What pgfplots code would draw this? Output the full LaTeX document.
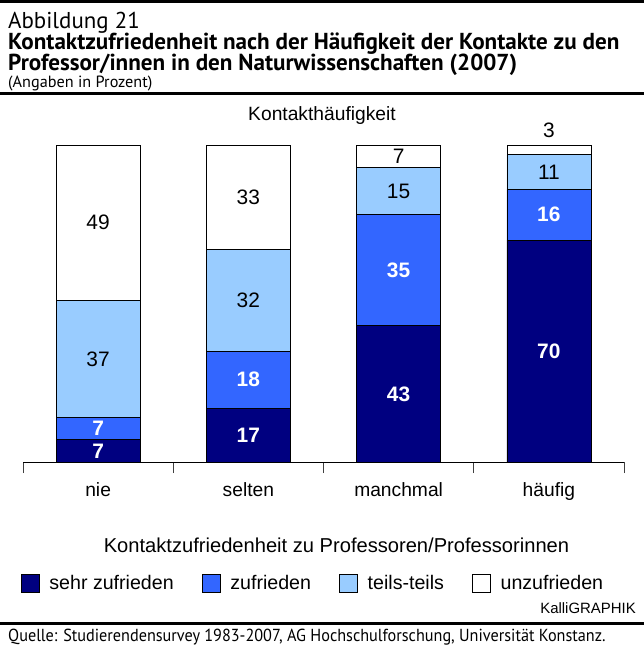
\documentclass[border=0pt]{standalone}
\usepackage{pgfplots}
\pgfplotsset{compat=1.18}
\usepackage{pgfplotstable}
\usepackage{fontspec}
\setmainfont{Liberation Sans}
\newfontfamily\titlefont{PT Sans}
\newfontfamily\sourcefont[FakeStretch=0.93]{PT Sans}
\definecolor{c1}{HTML}{000080}
\definecolor{c2}{HTML}{3366FF}
\definecolor{c3}{HTML}{99CCFF}
\newcommand{\chartfont}{\fontsize{19.3}{22}\selectfont}
\newcommand{\legfont}{\fontsize{19.7}{23}\selectfont}
\newcommand{\labfont}{\fontsize{21}{24}\selectfont}

\pgfplotstableread{
x sehr zuf teils unz
0 7 7 37 49
1 17 18 32 33
2 43 35 15 7
3 70 16 11 3
}\data

% label positions (segment midpoints)
\pgfplotstableread{
x y lab
0 3.5 7
0 10.5 7
1 8.5 17
1 26 18
2 21.5 43
2 60.5 35
3 35 70
3 78 16
}\labwhite
\pgfplotstableread{
x y lab
0 32.5 37
0 75.5 49
1 51 32
1 83.5 33
2 85.5 15
2 96.5 7
3 91.5 11
3 104.7 3
}\labblack

\begin{document}
\begin{tikzpicture}
\path[use as bounding box] (0,0) rectangle (644bp,-645bp);
% rules
\draw[line width=3bp] (0,-1.5bp) -- (644bp,-1.5bp);
\draw[line width=2.5bp] (0,-93.5bp) -- (644bp,-93.5bp);
\draw[line width=2.5bp] (0,-623.5bp) -- (644bp,-623.5bp);
% titles
\node[anchor=base west, inner sep=0, font=\titlefont\fontsize{23}{26}\selectfont] at (8bp,-28bp) {Abbildung 21};
\node[anchor=base west, inner sep=0, font=\titlefont\bfseries\fontsize{23.2}{26}\selectfont] at (8bp,-49bp) {Kontaktzufriedenheit nach der Häufigkeit der Kontakte zu den};
\node[anchor=base west, inner sep=0, font=\titlefont\bfseries\fontsize{23.2}{26}\selectfont] at (8bp,-70bp) {Professor/innen in den Naturwissenschaften (2007)};
\node[anchor=base west, inner sep=0, font=\titlefont\fontsize{16.3}{19}\selectfont] at (8bp,-87bp) {(Angaben in Prozent)};
\node[anchor=base west, inner sep=0, font=\sourcefont\fontsize{17.5}{20}\selectfont] at (8bp,-641bp) {Quelle: Studierendensurvey 1983-2007, AG Hochschulforschung, Universität Konstanz.};
% chart texts
\node[font=\chartfont] at (322bp,-116bp) {Kontakthäufigkeit};
\node[font=\fontsize{20.2}{24}\selectfont] at (336.5bp,-545bp) {Kontaktzufriedenheit zu Professoren/Professorinnen};
\node[anchor=east, inner sep=0, font=\fontsize{15}{18}\selectfont] at (636bp,-608bp) {KalliGRAPHIK};

\begin{axis}[
  at={(23bp,-462bp)}, anchor=south west,
  width=601bp, height=317bp, scale only axis,
  xmin=-0.5, xmax=3.5, ymin=0, ymax=100,
  ybar stacked, bar width=84bp,
  axis x line=bottom, axis y line=none,
  x axis line style={-, black, line width=0.8bp},
  xtick={0,1,2,3}, xticklabels={nie,selten,manchmal,häufig},
  major tick length=0pt,
  minor xtick={-0.5,0.5,1.5,2.5,3.5}, minor tick length=11bp,
  xtick align=outside,
  minor tick style={black!75, line width=0.8bp},
  xticklabel style={font=\chartfont, anchor=base, yshift=-34bp},
  every axis plot/.append style={draw=black, line width=0.7bp},
  legend image code/.code={\draw[#1, draw=black, line width=0.6bp] (0bp,-9bp) rectangle (18bp,9bp);},
  legend style={draw=none, fill=none, legend columns=4, font=\legfont,
    at={(0.4825,-0.3817)}, anchor=center,
    /tikz/every odd column/.append style={column sep=8bp},
    /tikz/every even column/.append style={column sep=26bp}},
  clip=false,
]
\addplot[fill=c1] table[x=x,y=sehr]{\data};
\addplot[fill=c2] table[x=x,y=zuf]{\data};
\addplot[fill=c3] table[x=x,y=teils]{\data};
\addplot[fill=white] table[x=x,y=unz]{\data};
\legend{sehr zufrieden, zufrieden, teils-teils, unzufrieden}
\end{axis}

\begin{axis}[
  at={(23bp,-462bp)}, anchor=south west,
  width=601bp, height=317bp, scale only axis,
  xmin=-0.5, xmax=3.5, ymin=0, ymax=100,
  hide axis, clip=false,
]
\addplot[draw=none, mark=none, nodes near coords, point meta=explicit symbolic,
  every node near coord/.append style={anchor=center, font=\labfont\bfseries, text=white}]
  table[x=x,y=y,meta=lab]{\labwhite};
\addplot[draw=none, mark=none, nodes near coords, point meta=explicit symbolic,
  every node near coord/.append style={anchor=center, font=\labfont, text=black}]
  table[x=x,y=y,meta=lab]{\labblack};
\end{axis}
\end{tikzpicture}
\end{document}
